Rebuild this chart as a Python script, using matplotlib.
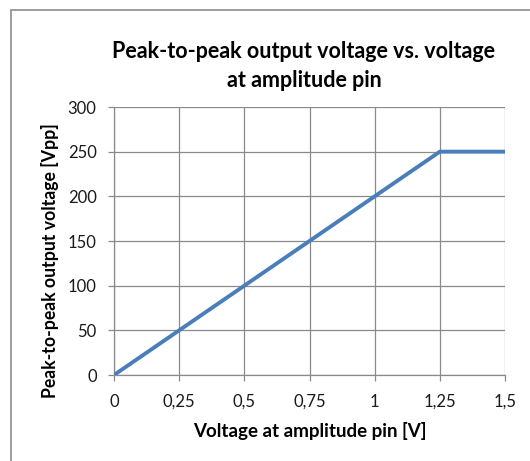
import matplotlib
matplotlib.use("Agg")
import matplotlib.pyplot as plt
from matplotlib.patches import Rectangle

# amplitude pin voltage [V] vs peak-to-peak output [Vpp]
pin_voltage = [0, 1.25, 1.5]
output_vpp = [0, 250, 250]

x_ticks = [0, 0.25, 0.5, 0.75, 1, 1.25, 1.5]
x_labels = ["0", "0,25", "0,5", "0,75", "1", "1,25", "1,5"]
y_ticks = [0, 50, 100, 150, 200, 250, 300]

W, H = 530, 461
plt.rcParams["font.family"] = ["Lato", "DejaVu Sans"]

fig = plt.figure(figsize=(W / 100, H / 100), dpi=100)

# chart frame (Excel style), cut off at right/bottom
fig.patches.append(Rectangle((11 / W, -0.1), 1.2, 1 - 10 / H + 0.1,
                             transform=fig.transFigure, fill=False,
                             edgecolor="#8c8c8c", linewidth=1.2))

ax = fig.add_axes([114 / W, 1 - 375 / H, 391 / W, 268 / H])
ax.plot(pin_voltage, output_vpp, color="#4a7ebb", linewidth=2.8,
        solid_capstyle="butt", zorder=3)

ax.set_xlim(0, 1.5)
ax.set_ylim(0, 300)
ax.set_xticks(x_ticks, x_labels)
ax.set_yticks(y_ticks)
ax.grid(True, color="#8a8a8a", linewidth=0.9)
ax.set_axisbelow(True)
for side in ("top", "right"):
    ax.spines[side].set_visible(False)
for side in ("left", "bottom"):
    ax.spines[side].set_color("#8a8a8a")
    ax.spines[side].set_linewidth(0.9)
ax.tick_params(colors="#8a8a8a", length=4.5, width=0.9, labelcolor="#1a1a1a",
               labelsize=12)
ax.tick_params(axis="x", pad=9)
ax.tick_params(axis="y", pad=8)

ax.set_xlabel("Voltage at amplitude pin [V]", fontsize=13.5, fontweight="bold")
ax.xaxis.label.set_va("center")
ax.xaxis.set_label_coords((310 - 114) / 391, (375 - 431) / 268)
ax.set_ylabel("Peak-to-peak output voltage [Vpp]", fontsize=12.7,
              fontweight="bold")
ax.yaxis.label.set_va("center")
ax.yaxis.set_label_coords((50 - 114) / 391, (375 - 261) / 268)

fig.text(304 / W, 1 - 66 / H, "Peak-to-peak output voltage vs. voltage\nat amplitude pin",
         ha="center", va="center", fontsize=15.5, fontweight="bold",
         linespacing=1.42)

fig.savefig("out.png", dpi=100)
